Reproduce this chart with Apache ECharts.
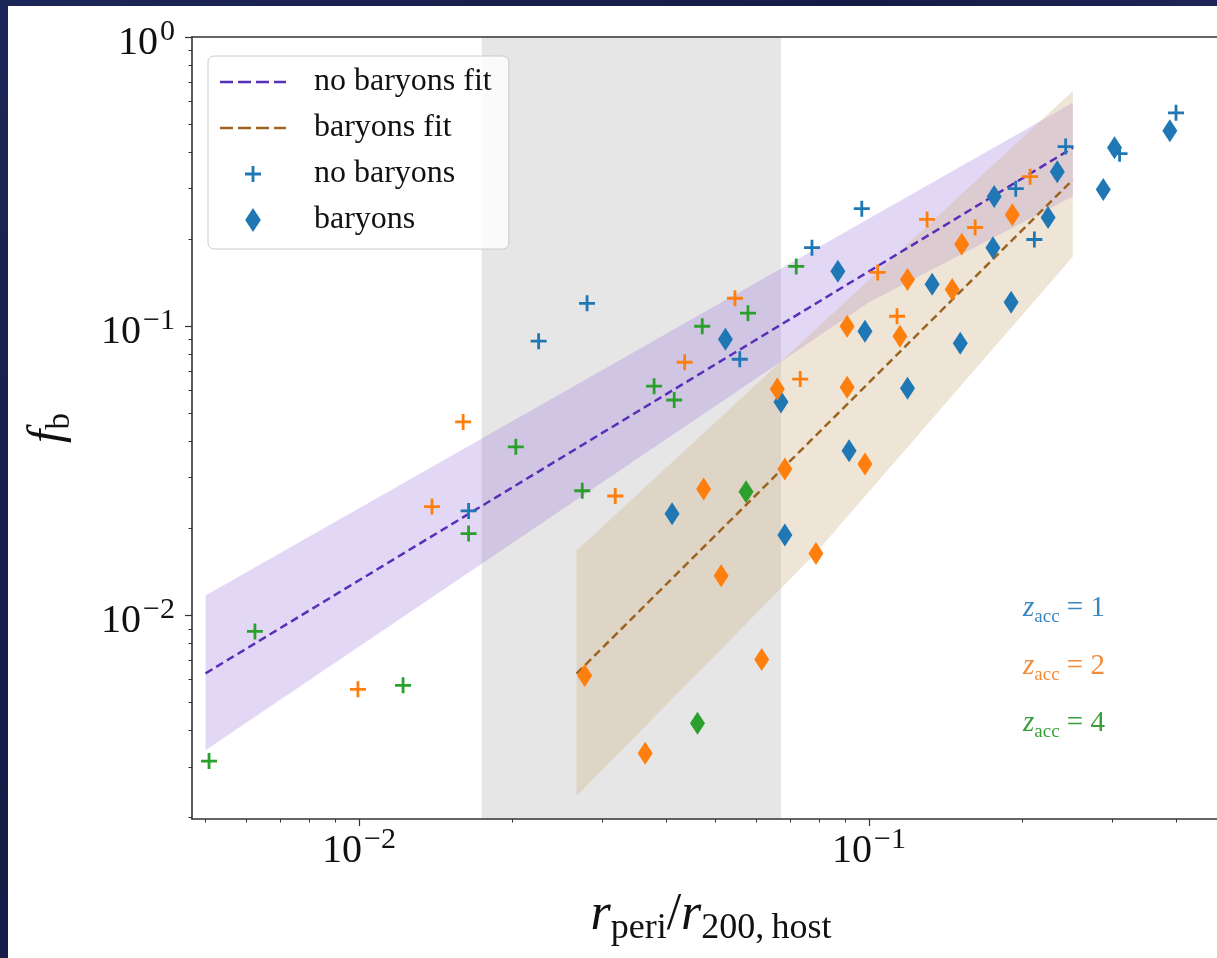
<!DOCTYPE html>
<html>
<head>
<meta charset="utf-8">
<script src="https://cdn.jsdelivr.net/npm/echarts@6/dist/echarts.min.js"></script>
<style>
html,body{margin:0;padding:0;width:1217px;height:958px;overflow:hidden;}
body{background:linear-gradient(135deg,#1c2658 0%,#141b45 40%,#2a2a66 70%,#121a40 100%);}
#chart{position:absolute;left:8px;top:6px;width:1240px;height:952px;background:#ffffff;}
</style>
</head>
<body>
<div id="chart"></div>
<script>
// ---- axis ranges & ticks ----
const xMin = 0.004704, xMax = 0.5104;
const yMin = 0.00198, yMax = 1;
const xMajorTicks = [0.01, 0.1];
const xMinorTicks = [0.005,0.006,0.007,0.008,0.009,0.02,0.03,0.04,0.05,0.06,0.07,0.08,0.09,0.2,0.3,0.4,0.5];
const yMajorTicks = [0.01, 0.1, 1];
const yMinorTicks = [0.002,0.003,0.004,0.005,0.006,0.007,0.008,0.009,0.02,0.03,0.04,0.05,0.06,0.07,0.08,0.09,0.2,0.3,0.4,0.5,0.6,0.7,0.8,0.9];

// ---- shaded regions ----
const grayBand = [0.0174, 0.0672];
const noBaryonsBandUpper = [[0.005,0.01172],[0.251,0.592]];
const noBaryonsBandLower = [[0.005,0.00342],[0.1,0.121],[0.251,0.281]];
const baryonsBandUpper = [[0.0267,0.01675],[0.251,0.651]];
const baryonsBandLower = [[0.0267,0.00238],[0.0784,0.01637],[0.251,0.174]];

// ---- fit lines ----
const noBaryonsFit = [[0.005,0.00631],[0.251,0.414]];
const baryonsFit = [[0.0267,0.0063],[0.251,0.321]];

// ---- no baryons (+) ----
const noBaryonsZ1 = [[0.400,0.547],[0.310,0.395],[0.243,0.418],[0.194,0.299],[0.211,0.1995],[0.0968,0.255],[0.0773,0.187],[0.0558,0.0769],[0.0280,0.120],[0.0225,0.0888],[0.0164,0.0230]];
const noBaryonsZ2 = [[0.207,0.329],[0.1615,0.2195],[0.130,0.234],[0.104,0.1535],[0.1135,0.1083],[0.0733,0.0657],[0.0546,0.125],[0.0435,0.0751],[0.0160,0.0467],[0.0139,0.0238],[0.0318,0.0259],[0.00995,0.00556]];
const noBaryonsZ4 = [[0.00508,0.00314],[0.00625,0.00881],[0.0122,0.00574],[0.0164,0.0192],[0.0203,0.0383],[0.0274,0.0270],[0.0379,0.0621],[0.0415,0.0556],[0.0471,0.100],[0.0579,0.111],[0.0720,0.161]];

// ---- baryons (diamonds) ----
const baryonsZ1 = [[0.389,0.474],[0.303,0.414],[0.288,0.297],[0.234,0.342],[0.176,0.281],[0.2245,0.2376],[0.175,0.187],[0.133,0.1396],[0.0869,0.155],[0.0982,0.0961],[0.190,0.121],[0.151,0.0874],[0.119,0.0611],[0.0914,0.0371],[0.0523,0.0902],[0.0672,0.0547],[0.0411,0.0225],[0.0684,0.0190]];
const baryonsZ2 = [[0.191,0.243],[0.152,0.192],[0.119,0.145],[0.1456,0.134],[0.0906,0.100],[0.115,0.0924],[0.0906,0.0616],[0.0982,0.0334],[0.0787,0.0164],[0.0661,0.0607],[0.0684,0.0321],[0.0474,0.0274],[0.0513,0.01374],[0.0277,0.00621],[0.0364,0.00334],[0.0616,0.00705]];
const baryonsZ4 = [[0.0574,0.0268],[0.0461,0.00424]];

// ---- styling ----
const serif = "'Liberation Serif','DejaVu Serif',serif";
const C1 = '#1f77b4', C2 = '#ff7f0e', C4 = '#2ca02c';
const purpleLine = '#5a2fb8', brownLine = '#9c6420';
const plusSym = 'path://M-1.4,-8L1.4,-8L1.4,-1.4L8,-1.4L8,1.4L1.4,1.4L1.4,8L-1.4,8L-1.4,1.4L-8,1.4L-8,-1.4L-1.4,-1.4ZM0,-12L0,-12ZM0,12L0,12Z';
const diamondSym = 'path://M0,-11.5L7.5,0L0,11.5L-7.5,0Z';
const dashIcon = 'path://M0,0h13v2.4h-13zM18,0h13v2.4h-13zM36,0h13v2.4h-13zM54,0h12v2.4h-12z';

function powLabel(v){
  const e = Math.round(Math.log10(v));
  return '{m|10}{e|' + (e < 0 ? '\u2212' + (-e) : String(e)) + '}';
}
const tickRich = {
  m:{fontFamily:serif,fontSize:40,lineHeight:40,color:'#111',padding:[12,0,0,0]},
  e:{fontFamily:serif,fontSize:30,lineHeight:30,color:'#111',verticalAlign:'top',padding:[0,0,0,2]}
};
const spine = {color:'#333',width:1.6};

function band(upper, lower, fill){
  return {
    type:'custom', coordinateSystem:'cartesian2d', silent:true, z:1,
    data:[upper[0]],
    renderItem:(params, api)=>{
      const pts = upper.map(p=>api.coord(p)).concat(lower.slice().reverse().map(p=>api.coord(p)));
      return {type:'polygon', shape:{points:pts}, style:{fill:fill}};
    }
  };
}
function scatter(name, data, color, sym, size){
  return {type:'scatter', name:name, data:data, symbol:sym, symbolSize:size, z:4,
    itemStyle:{color:color, opacity:1}, emphasis:{disabled:true}};
}
function zLabel(x, y, digit, color){
  return {type:'text', x:x, y:y, z:10, style:{text:'{z|z}{s|acc}{t| = ' + digit + '}', verticalAlign:'middle', rich:{
    z:{fontFamily:serif,fontStyle:'italic',fontSize:29,lineHeight:29,fill:color,padding:[0,0,7,0]},
    s:{fontFamily:serif,fontSize:19,lineHeight:19,fill:color,verticalAlign:'bottom'},
    t:{fontFamily:serif,fontSize:29,lineHeight:29,fill:color,padding:[0,0,7,0]}}}};
}

const chart = echarts.init(document.getElementById('chart'), null, {renderer:'canvas'});
chart.setOption({
  animation:false,
  backgroundColor:'#ffffff',
  grid:{left:184, right:18, top:31, bottom:137, containLabel:false},
  xAxis:[
    {type:'log', min:xMin, max:xMax, position:'bottom',
     axisLine:{show:true, lineStyle:spine},
     axisTick:{show:true, customValues:xMajorTicks, length:7, lineStyle:{color:'#333',width:1.2}},
     axisLabel:{show:true, customValues:xMajorTicks, formatter:powLabel, rich:tickRich, margin:6},
     splitLine:{show:false}, minorTick:{show:false},
     name:'{r|r}{s|peri}{sl|/}{r|r}{s|200,\u2009host}', nameLocation:'middle', nameGap:76,
     nameTextStyle:{rich:{
       r:{fontFamily:serif,fontStyle:'italic',fontSize:52,lineHeight:52,color:'#111',padding:[0,0,12,0]},
       sl:{fontFamily:serif,fontSize:52,lineHeight:52,color:'#111',padding:[0,0,12,0]},
       s:{fontFamily:serif,fontSize:36,lineHeight:36,color:'#111',verticalAlign:'bottom'}
     }}},
    {type:'log', min:xMin, max:xMax, position:'bottom',
     axisLine:{show:false},
     axisTick:{show:true, customValues:xMinorTicks, length:3.5, lineStyle:{color:'#333',width:1}},
     axisLabel:{show:false}, splitLine:{show:false}},
    {type:'log', min:xMin, max:xMax, position:'top',
     axisLine:{show:true, lineStyle:spine}, axisTick:{show:false}, axisLabel:{show:false}, splitLine:{show:false}}
  ],
  yAxis:[
    {type:'log', min:yMin, max:yMax, position:'left',
     axisLine:{show:true, lineStyle:spine},
     axisTick:{show:true, customValues:yMajorTicks, length:7, lineStyle:{color:'#333',width:1.2}},
     axisLabel:{show:true, customValues:yMajorTicks, formatter:powLabel, rich:tickRich, margin:17},
     splitLine:{show:false}, minorTick:{show:false},
     name:'{f|f}{b|b}', nameLocation:'middle', nameGap:115,
     nameTextStyle:{rich:{
       f:{fontFamily:serif,fontStyle:'italic',fontSize:48,lineHeight:48,color:'#111',padding:[0,0,10,0]},
       b:{fontFamily:serif,fontSize:33,lineHeight:33,color:'#111',verticalAlign:'bottom'}
     }}},
    {type:'log', min:yMin, max:yMax, position:'left',
     axisLine:{show:false},
     axisTick:{show:true, customValues:yMinorTicks, length:3.5, lineStyle:{color:'#333',width:1}},
     axisLabel:{show:false}, splitLine:{show:false}},
    {type:'log', min:yMin, max:yMax, position:'right',
     axisLine:{show:true, lineStyle:spine}, axisTick:{show:false}, axisLabel:{show:false}, splitLine:{show:false}}
  ],
  legend:{
    orient:'vertical', left:200, top:50, z:10,
    itemWidth:66, itemHeight:24, itemGap:14,
    padding:[10,17,13,12],
    backgroundColor:'rgba(255,255,255,0.8)', borderColor:'#cccccc', borderWidth:1, borderRadius:6,
    textStyle:{fontFamily:serif, fontSize:32, lineHeight:32, color:'#111', padding:[0,0,0,23]},
    data:[
      {name:'no baryons fit', icon:dashIcon},
      {name:'baryons fit', icon:dashIcon},
      'no baryons','baryons'
    ]
  },
  graphic:[
    zLabel(1015, 606, '1', '#3a86bf'),
    zLabel(1015, 664, '2', '#f28c3a'),
    zLabel(1015, 721, '4', '#3a9f3a')
  ],
  series:[
    {type:'custom', coordinateSystem:'cartesian2d', silent:true, z:0,
     data:[[grayBand[0], yMin]],
     renderItem:(params, api)=>{
       const a = api.coord([grayBand[0], yMax]);
       const b = api.coord([grayBand[1], yMin]);
       return {type:'rect', shape:{x:a[0], y:a[1], width:b[0]-a[0], height:b[1]-a[1]}, style:{fill:'rgba(128,128,128,0.2)'}};
     }},
    band(noBaryonsBandUpper, noBaryonsBandLower, 'rgba(147,112,219,0.27)'),
    band(baryonsBandUpper, baryonsBandLower, 'rgba(210,180,140,0.35)'),
    {type:'line', name:'no baryons fit', data:noBaryonsFit, symbol:'none', z:3,
     lineStyle:{color:purpleLine, width:2.5, type:[8,4.5]}, itemStyle:{color:purpleLine}, emphasis:{disabled:true}},
    {type:'line', name:'baryons fit', data:baryonsFit, symbol:'none', z:3,
     lineStyle:{color:brownLine, width:2.5, type:[8,4.5]}, itemStyle:{color:brownLine}, emphasis:{disabled:true}},
    scatter('no baryons', noBaryonsZ1, C1, plusSym, [16,24]),
    scatter('no baryons', noBaryonsZ2, C2, plusSym, [16,24]),
    scatter('no baryons', noBaryonsZ4, C4, plusSym, [16,24]),
    scatter('baryons', baryonsZ1, C1, diamondSym, [15,23]),
    scatter('baryons', baryonsZ2, C2, diamondSym, [15,23]),
    scatter('baryons', baryonsZ4, C4, diamondSym, [15,23])
  ]
});
</script>
</body>
</html>
